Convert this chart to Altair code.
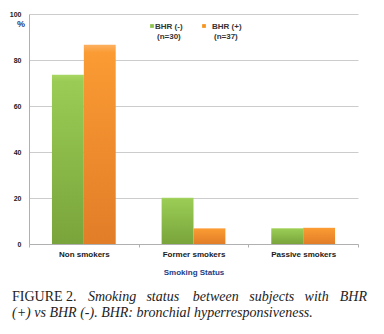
import altair as alt
import pandas as pd

categories = ["Non smokers", "Former smokers", "Passive smokers"]
series = ["BHR (-)", "BHR (+)"]
bhr_neg = [73.6, 20.1, 6.8]
bhr_pos = [86.6, 6.8, 7.1]
y_ticks = [0, 20, 40, 60, 80, 100]

rows = []
for c, a, b in zip(categories, bhr_neg, bhr_pos):
    rows.append({"status": c, "group": series[0], "pct": a})
    rows.append({"status": c, "group": series[1], "pct": b})
df = pd.DataFrame(rows)

W, H = 329, 230
LEFT = 29
BLUE = "#233d84"

green = alt.LinearGradient(gradient="linear", x1=0, y1=0, x2=0, y2=1,
                           stops=[alt.GradientStop(offset=0, color="#a8d662"),
                                  alt.GradientStop(offset=0.04, color="#9acc55"),
                                  alt.GradientStop(offset=1, color="#79a43b")])
orange = alt.LinearGradient(gradient="linear", x1=0, y1=0, x2=0, y2=1,
                            stops=[alt.GradientStop(offset=0, color="#fdb060"),
                                   alt.GradientStop(offset=0.04, color="#fa9b33"),
                                   alt.GradientStop(offset=1, color="#e27d28")])

x_enc = alt.X("status:N", sort=categories,
              scale=alt.Scale(domain=categories, paddingInner=0, paddingOuter=0),
              axis=alt.Axis(title="Smoking Status", labelAngle=0, tickBand="extent",
                            tickSize=3, tickColor="#b0b0b0", domainColor="#b0b0b0",
                            labelFont="Liberation Sans", labelFontSize=8, labelFontWeight="bold",
                            labelColor="#1a1a1a", labelPadding=3,
                            titleFont="Liberation Sans", titleFontSize=8, titleFontWeight="bold",
                            titleColor=BLUE, titlePadding=10, grid=False))
xo_enc = alt.XOffset("group:N", scale=alt.Scale(domain=series, paddingInner=0, paddingOuter=0.72))
y_enc = alt.Y("pct:Q", scale=alt.Scale(domain=[0, 100], nice=False),
              axis=alt.Axis(title=None, values=y_ticks, tickSize=0, labelPadding=8,
                            labelFont="Liberation Sans", labelFontSize=7, labelFontWeight="bold",
                            labelColor="#1a1a1a", domainColor="#b0b0b0",
                            gridColor="#cccccc", gridWidth=1))

base = alt.Chart(df)
bars_neg = base.transform_filter(alt.datum.group == series[0]).mark_bar(color=green).encode(
    x=x_enc, xOffset=xo_enc, y=y_enc)
bars_pos = base.transform_filter(alt.datum.group == series[1]).mark_bar(color=orange).encode(
    x=x_enc, xOffset=xo_enc, y=y_enc)

one = alt.Data(values=[{"k": 1}])

def txt(s, x, y, size=8, weight="normal", style="normal", color="#1a1a1a", font="Liberation Sans", align="left"):
    return alt.Chart(one).mark_text(text=s, fontSize=size, fontWeight=weight, fontStyle=style,
                                    color=color, font=font, align=align, baseline="alphabetic").encode(
        x=alt.value(x), y=alt.value(y))

def square(color, x, y):
    return alt.Chart(one).mark_square(color=color, size=14, opacity=1).encode(x=alt.value(x), y=alt.value(y))

pct_label = txt("%", -12, 13, size=9, weight="bold", color=BLUE)

legend = [
    square("#8cc34a", 123, 12), txt("BHR (-)", 126, 15, weight="bold", color="#333333"),
    txt("(n=30)", 128, 25, weight="bold", color="#333333"),
    square("#f7941d", 175, 12), txt("BHR (+)", 183, 15, weight="bold", color="#333333"),
    txt("(n=37)", 185, 25, weight="bold", color="#333333"),
]

SERIF = "Liberation Serif"
CAP = "#222222"
line1_y = 301 - 14
line2_y = 317 - 14
cap = [txt("FIGURE 2.", 12 - LEFT, line1_y, size=14, color=CAP, font=SERIF)]
for word, xs in [("Smoking", 88), ("status", 146.4), ("between", 192.8), ("subjects", 249.2), ("with", 304.6)]:
    cap.append(txt(word, xs - LEFT, line1_y, size=14, style="italic", color=CAP, font=SERIF))
cap.append(txt("BHR", 367 - LEFT, line1_y, size=14, style="italic", color=CAP, font=SERIF, align="right"))
cap.append(txt("(+) vs BHR (-). BHR: bronchial hyperresponsiveness.", 12 - LEFT, line2_y, size=14,
               style="italic", color=CAP, font=SERIF))

chart = alt.layer(bars_neg, bars_pos, pct_label, *legend, *cap).properties(
    width=W, height=H,
    autosize=alt.AutoSizeParams(type="none"),
    padding={"left": LEFT, "top": 14, "right": 26, "bottom": 90},
    background="white",
).configure_view(stroke=None)

chart.save("out.html", embed_options={"renderer": "svg", "actions": False})
